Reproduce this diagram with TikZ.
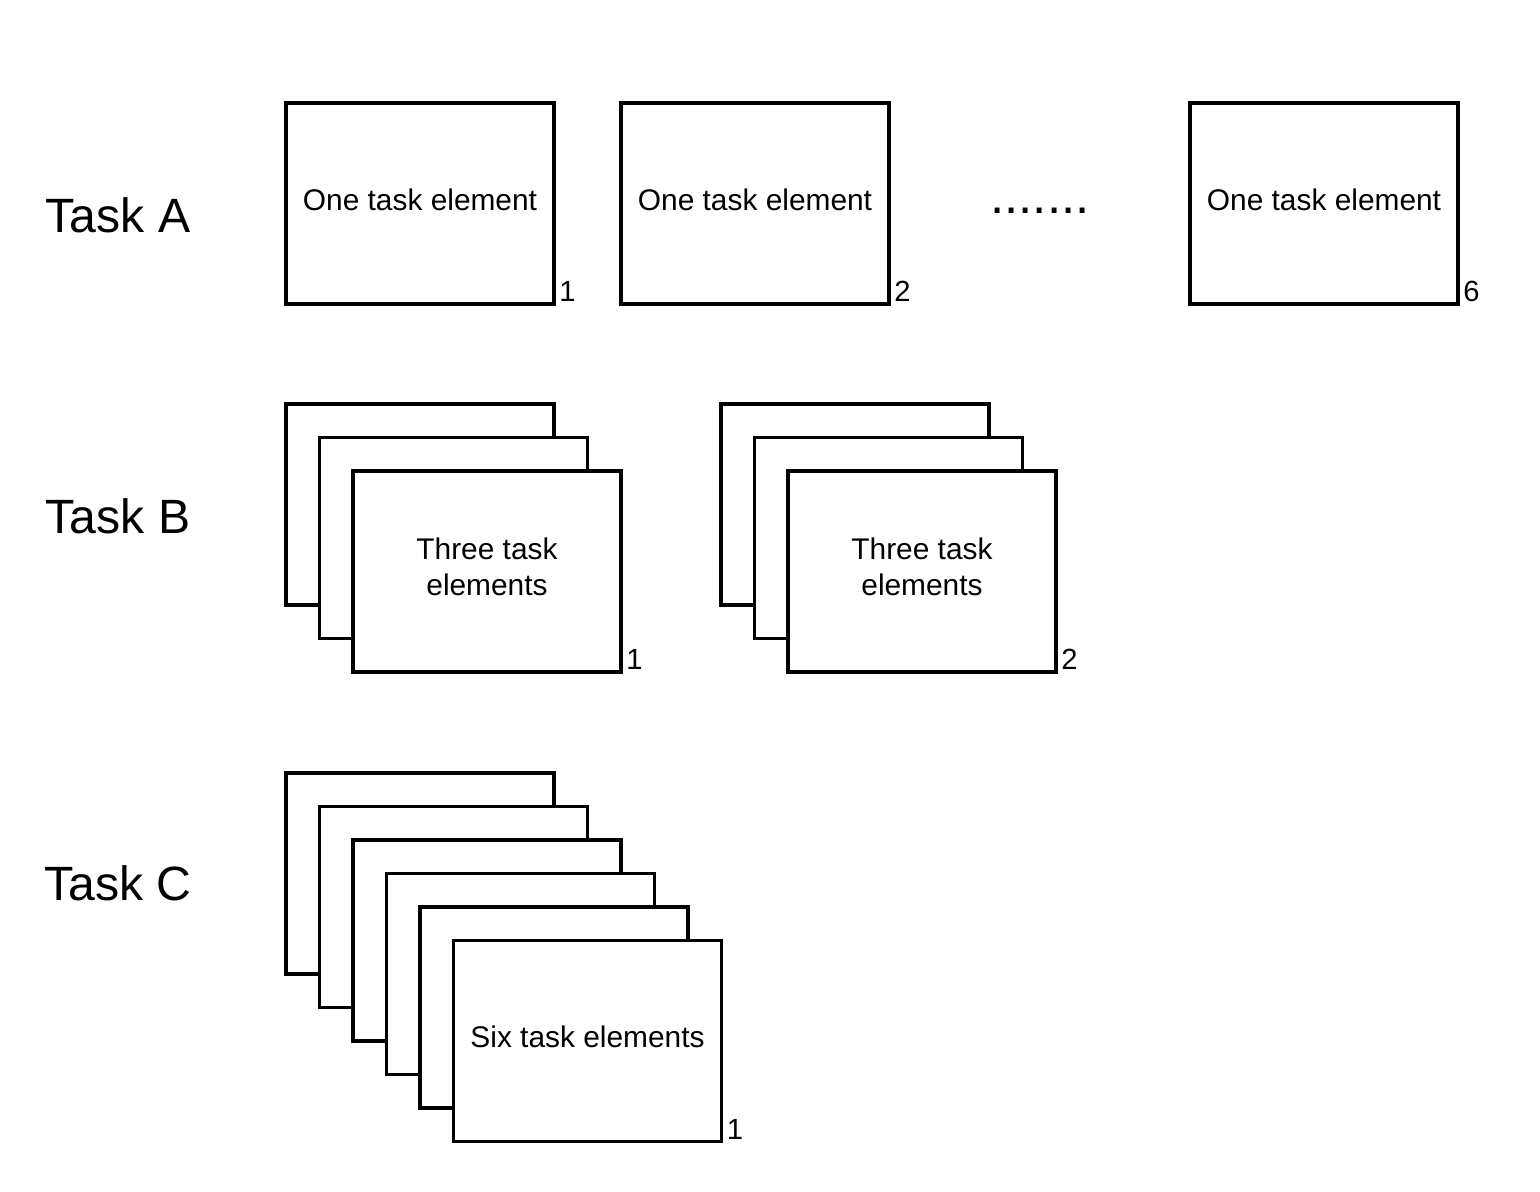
\documentclass[tikz,border=0pt]{standalone}
\usepackage{fontspec}
\setmainfont{Liberation Sans}
\usetikzlibrary{positioning}

\tikzset{
  elem/.style={draw, line width=0.9pt, fill=white, minimum width=2.68cm, minimum height=2.01cm, inner sep=0pt, align=center, text depth=0.22em, font=\fontsize{8.5}{10.2}\selectfont},
  elemtwo/.style={elem, text depth=0.28em},
  num/.style={anchor=south west, inner sep=0.03cm, font=\fontsize{8.3}{10}\selectfont},
  tasklabel/.style={font=\fontsize{13.7}{16}\selectfont}
}

\begin{document}
\begin{tikzpicture}
  \useasboundingbox (0,0) rectangle (15.4,-11.92);

  % Task A
  \node[tasklabel] (ta) at (1.18,-2.15) {Task A};
  \node[elem] (a1) at (4.20,-2.035) {One task element};
  \node[elem] (a2) at (7.55,-2.035) {One task element};
  \node[elem] (a3) at (13.24,-2.035) {One task element};
  \node[font=\fontsize{14.5}{16}\selectfont, anchor=base] (dots) at (10.40,-2.13) {.......};
  \node[num] (na1) at (a1.south east) {1};
  \node[num] (na2) at (a2.south east) {2};
  \node[num] (na3) at (a3.south east) {6};

  % Task B
  \node[tasklabel] (tb) at (1.18,-5.16) {Task B};
  \node[elem] (b11) at (4.20,-5.045) {};
  \node[elem] (b12) at ([shift={(0.335,-0.335)}]b11.center) {};
  \node[elemtwo] (b13) at ([shift={(0.335,-0.335)}]b12.center) {Three task\\elements};
  \node[num] (nb1) at (b13.south east) {1};
  \node[elem] (b21) at (8.55,-5.045) {};
  \node[elem] (b22) at ([shift={(0.335,-0.335)}]b21.center) {};
  \node[elemtwo] (b23) at ([shift={(0.335,-0.335)}]b22.center) {Three task\\elements};
  \node[num] (nb2) at (b23.south east) {2};

  % Task C
  \node[tasklabel] (tc) at (1.18,-8.83) {Task C};
  \node[elem] (c1) at (4.20,-8.735) {};
  \foreach \i [evaluate=\i as \j using int(\i-1)] in {2,...,5}
    \node[elem] (c\i) at ([shift={(0.335,-0.335)}]c\j.center) {};
  \node[elem] (c6) at ([shift={(0.335,-0.335)}]c5.center) {Six task elements};
  \node[num] (nc1) at (c6.south east) {1};
\end{tikzpicture}
\end{document}
